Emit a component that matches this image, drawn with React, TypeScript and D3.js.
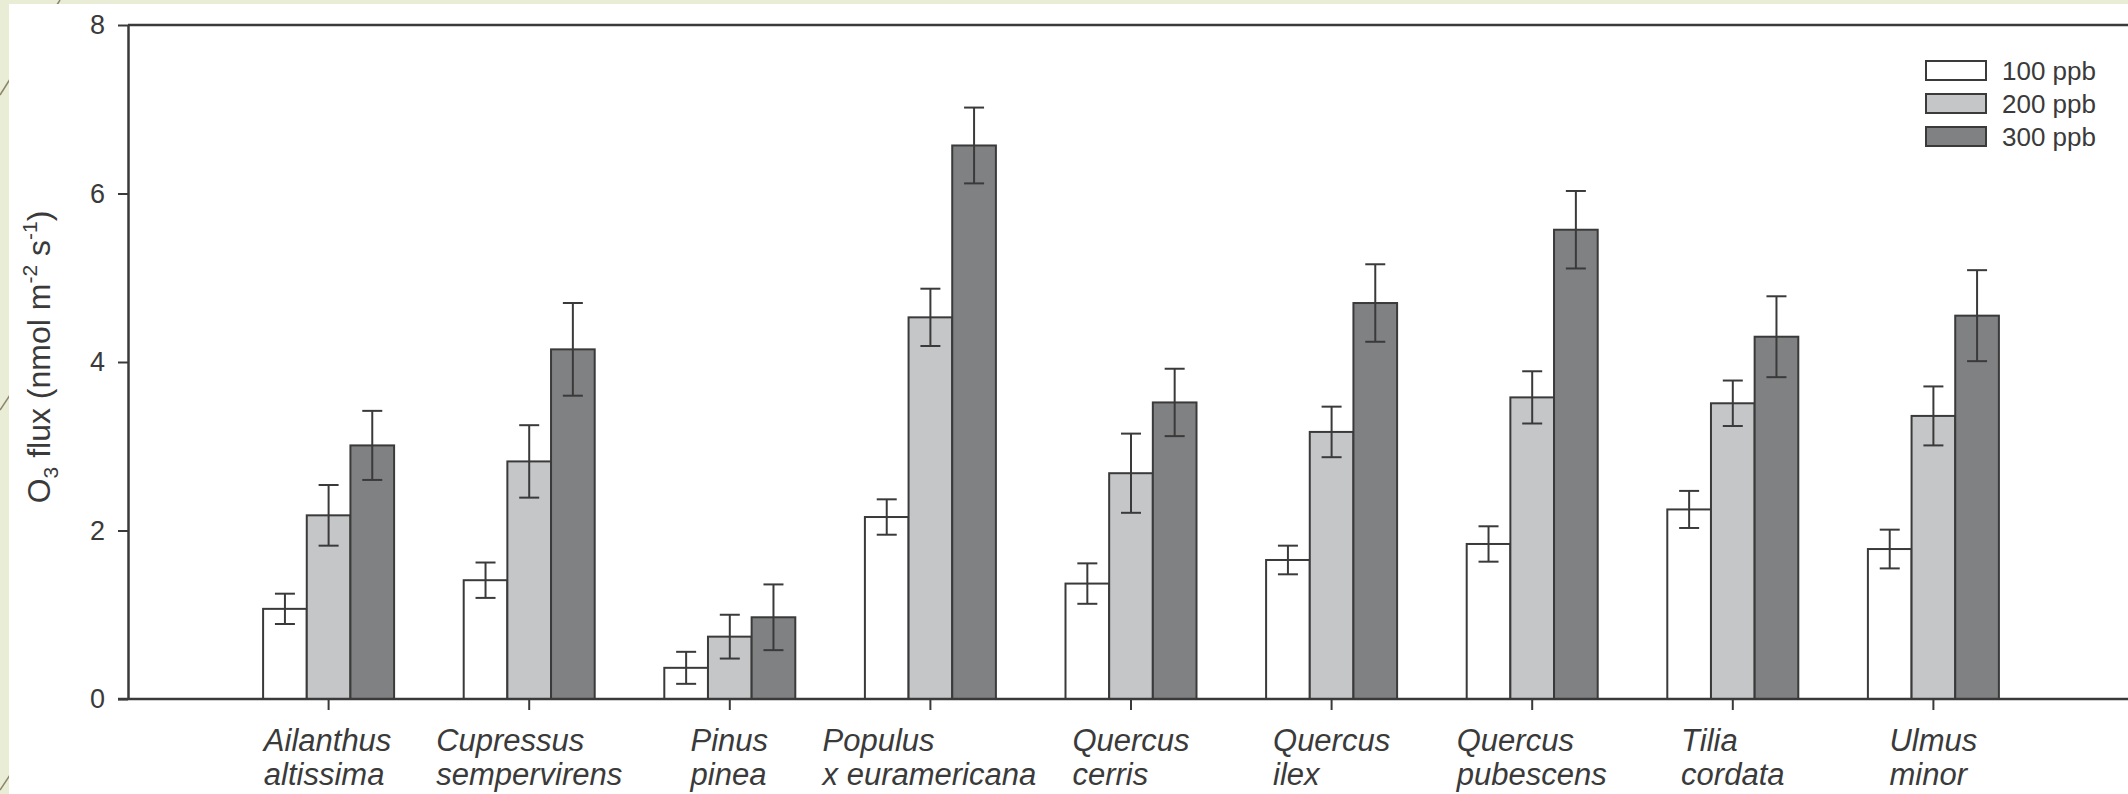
import React, { useEffect, useRef } from 'react'
import * as d3 from 'd3'

// species, two lines each
const speciesTop = ['Ailanthus', 'Cupressus', 'Pinus', 'Populus', 'Quercus', 'Quercus', 'Quercus', 'Tilia', 'Ulmus']
const speciesBottom = ['altissima', 'sempervirens', 'pinea', 'x euramericana', 'cerris', 'ilex', 'pubescens', 'cordata', 'minor']

const seriesNames = ['100 ppb', '200 ppb', '300 ppb']

const flux100 = [1.07, 1.41, 0.37, 2.16, 1.37, 1.65, 1.84, 2.25, 1.78]
const flux200 = [2.18, 2.82, 0.74, 4.53, 2.68, 3.17, 3.58, 3.51, 3.36]
const flux300 = [3.01, 4.15, 0.97, 6.57, 3.52, 4.70, 5.57, 4.30, 4.55]

const err100 = [0.18, 0.21, 0.19, 0.21, 0.24, 0.17, 0.21, 0.22, 0.23]
const err200 = [0.36, 0.43, 0.26, 0.34, 0.47, 0.30, 0.31, 0.27, 0.35]
const err300 = [0.41, 0.55, 0.39, 0.45, 0.40, 0.46, 0.46, 0.48, 0.54]

const yTicks = [0, 2, 4, 6, 8]

const W = 2128
const H = 794

export default function App() {
  const svgRef = useRef<SVGSVGElement>(null)

  useEffect(() => {
    if (!svgRef.current) return
    const svg = d3.select(svgRef.current)
    svg.selectAll('*').remove()

    const ink = '#3a3a3a'
    const font = 'Liberation Sans, Arial, sans-serif'
    const fills = ['#ffffff', '#c5c6c8', '#808183']
    const values = [flux100, flux200, flux300]
    const errors = [err100, err200, err300]

    // slide background and white panel
    svg.append('rect').attr('width', W).attr('height', H).attr('fill', '#e9edd6')
    const deco = svg.append('g').attr('stroke', '#8c8468').attr('stroke-width', 1.5)
    deco.append('line').attr('x1', 0).attr('y1', 95).attr('x2', 60).attr('y2', 0)
    deco.append('line').attr('x1', 0).attr('y1', 410).attr('x2', 30).attr('y2', 365)
    deco.append('line').attr('x1', 0).attr('y1', 790).attr('x2', 30).attr('y2', 745)
    svg.append('rect').attr('x', 9).attr('y', 4).attr('width', W - 9).attr('height', H - 4).attr('fill', '#ffffff')

    const x = d3.scaleLinear().domain([0, 10]).range([128, 2134])
    const inner = d3.scaleBand().domain(seriesNames).range([-65.5, 65.5]).padding(0)
    const y = d3.scaleLinear().domain([0, 8]).range([699, 25])

    // bars
    seriesNames.forEach((s, si) => {
      svg.append('g')
        .selectAll('rect')
        .data(values[si])
        .join('rect')
        .attr('x', (_, i) => x(i + 1) + (inner(s) || 0))
        .attr('y', d => y(d))
        .attr('width', inner.bandwidth())
        .attr('height', d => y(0) - y(d))
        .attr('fill', fills[si])
        .attr('stroke', ink)
        .attr('stroke-width', 2)
    })

    // error bars
    seriesNames.forEach((s, si) => {
      const g = svg.append('g').attr('stroke', ink).attr('stroke-width', 2)
      values[si].forEach((v, i) => {
        const cx = x(i + 1) + (inner(s) || 0) + inner.bandwidth() / 2
        const e = errors[si][i]
        g.append('line').attr('x1', cx).attr('x2', cx).attr('y1', y(v + e)).attr('y2', y(v - e))
        g.append('line').attr('x1', cx - 10).attr('x2', cx + 10).attr('y1', y(v + e)).attr('y2', y(v + e))
        g.append('line').attr('x1', cx - 10).attr('x2', cx + 10).attr('y1', y(v - e)).attr('y2', y(v - e))
      })
    })

    // frame: top line
    svg.append('line').attr('x1', 128).attr('x2', W).attr('y1', y(8)).attr('y2', y(8))
      .attr('stroke', ink).attr('stroke-width', 2.5)

    // y axis
    const yAxis = svg.append('g')
      .attr('transform', 'translate(128,0)')
      .call(d3.axisLeft(y).tickValues(yTicks).tickSize(10).tickSizeOuter(0).tickPadding(13))
    yAxis.select('.domain').attr('stroke', ink).attr('stroke-width', 2.5)
    yAxis.selectAll('.tick line').attr('stroke', ink).attr('stroke-width', 2)
    yAxis.selectAll('.tick text')
      .attr('font-family', font)
      .attr('font-size', 27)
      .attr('fill', ink)

    // x axis
    svg.append('line').attr('x1', 118).attr('x2', W).attr('y1', y(0)).attr('y2', y(0))
      .attr('stroke', ink).attr('stroke-width', 2.5)
    const xTicks = svg.append('g').attr('stroke', ink).attr('stroke-width', 2)
    speciesTop.forEach((_, i) => {
      xTicks.append('line').attr('x1', x(i + 1)).attr('x2', x(i + 1)).attr('y1', y(0)).attr('y2', y(0) + 11)
    })

    // category labels: left aligned lines, block centred on tick
    const labels = svg.append('g')
      .attr('font-family', font)
      .attr('font-style', 'italic')
      .attr('font-size', 31)
      .attr('fill', ink)
    speciesTop.forEach((top, i) => {
      const t = labels.append('text').attr('y', 751)
      t.append('tspan').attr('x', 0).text(top)
      t.append('tspan').attr('x', 0).attr('dy', 34).text(speciesBottom[i])
      const w = (t.node() as SVGTextElement).getBBox().width
      t.attr('transform', `translate(${x(i + 1) - w / 2},0)`)
    })

    // y label
    const yl = svg.append('text')
      .attr('transform', `translate(50,${(y(0) + y(8)) / 2 - 5}) rotate(-90)`)
      .attr('text-anchor', 'middle')
      .attr('font-family', font)
      .attr('font-size', 32)
      .attr('fill', ink)
    yl.append('tspan').text('O')
    yl.append('tspan').attr('font-size', 21).attr('dy', 8).text('3')
    yl.append('tspan').attr('dy', -8).text(' flux (nmol m')
    yl.append('tspan').attr('font-size', 21).attr('dy', -13).text('-2')
    yl.append('tspan').attr('dy', 13).text(' s')
    yl.append('tspan').attr('font-size', 21).attr('dy', -13).text('-1')
    yl.append('tspan').attr('dy', 13).text(')')

    // legend
    const leg = svg.append('g').attr('transform', 'translate(1926,61)')
    seriesNames.forEach((s, si) => {
      leg.append('rect').attr('x', 0).attr('y', si * 33).attr('width', 60).attr('height', 19)
        .attr('fill', fills[si]).attr('stroke', ink).attr('stroke-width', 2)
      leg.append('text').attr('x', 76).attr('y', si * 33 + 19)
        .attr('font-family', font)
        .attr('font-size', 26).attr('fill', ink).text(s)
    })
  }, [])

  return (
    <div style={{ position: 'fixed', left: 0, top: 0, width: W, height: H }}>
      <svg ref={svgRef} width={W} height={H} style={{ display: 'block' }}></svg>
    </div>
  )
}
